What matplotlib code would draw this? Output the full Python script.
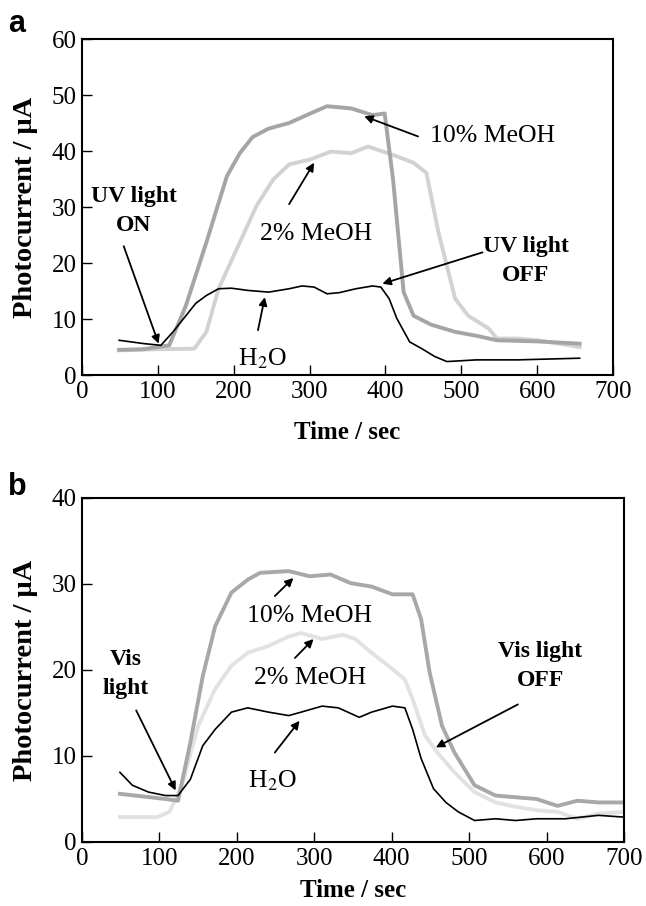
import matplotlib.pyplot as plt

plt.rcParams['font.family'] = ['Liberation Serif', 'DejaVu Serif']
plt.rcParams['mathtext.fontset'] = 'stix'

# ---- panel a (UV light) ----
a_h2o_t = [49, 82, 104, 120, 137, 150, 164, 180, 197, 219, 246, 273, 290, 306, 323, 339, 361, 383, 394,
           405, 415, 432, 448, 465, 481, 520, 574, 656]
a_h2o_i = [6.2, 5.6, 5.3, 7.7, 10.6, 12.8, 14.2, 15.4, 15.5, 15.1, 14.8, 15.4, 15.9, 15.7, 14.5, 14.7,
           15.4, 15.9, 15.7, 13.6, 10.1, 5.9, 4.7, 3.3, 2.4, 2.7, 2.7, 3.0]

a_m10_t = [49, 80, 100, 115, 137, 164, 191, 208, 225, 246, 273, 301, 323, 355, 383, 399, 410, 424, 437,
           460, 492, 520, 547, 600, 656]
a_m10_i = [4.5, 4.6, 5.0, 5.3, 12.4, 23.7, 35.5, 39.6, 42.5, 44.0, 45.0, 46.7, 48.0, 47.6, 46.4, 46.7,
           35.0, 14.8, 10.6, 9.0, 7.7, 7.0, 6.2, 6.0, 5.6]

a_m2_t = [49, 100, 148, 164, 180, 202, 230, 252, 273, 301, 328, 355, 377, 410, 437, 454, 470, 481,
          492, 509, 536, 547, 574, 601, 656]
a_m2_i = [4.4, 4.6, 4.7, 7.7, 15.4, 21.9, 30.2, 34.9, 37.6, 38.5, 39.9, 39.6, 40.8, 39.3, 37.9, 36.1,
          25.4, 19.5, 13.6, 10.6, 8.3, 6.5, 6.5, 6.2, 5.0]

# ---- panel b (Vis light) ----
b_h2o_t = [49, 65, 86, 108, 124, 140, 156, 172, 193, 214, 241, 267, 283, 310, 331, 358, 374, 401,
           417, 427, 438, 454, 470, 486, 507, 534, 560, 587, 624, 667, 699]
b_h2o_i = [8.1, 6.6, 5.8, 5.4, 5.4, 7.3, 11.2, 13.1, 15.1, 15.6, 15.1, 14.7, 15.1, 15.8, 15.6, 14.5,
           15.1, 15.8, 15.6, 13.1, 9.7, 6.2, 4.6, 3.5, 2.5, 2.7, 2.5, 2.7, 2.7, 3.1, 2.9]

b_m10_t = [49, 108, 124, 140, 156, 172, 193, 214, 230, 267, 294, 321, 347, 374, 401, 427, 438, 449,
           465, 481, 507, 534, 587, 614, 640, 667, 699]
b_m10_i = [5.6, 5.0, 4.8, 11.6, 19.3, 25.1, 29.0, 30.5, 31.3, 31.5, 30.9, 31.1, 30.1, 29.7, 28.8,
           28.8, 25.9, 19.7, 13.5, 10.4, 6.6, 5.4, 5.0, 4.2, 4.8, 4.6, 4.6]

b_m2_t = [49, 97, 113, 129, 150, 172, 193, 214, 241, 267, 283, 310, 337, 353, 374, 401, 417, 427,
          443, 459, 481, 507, 534, 560, 587, 614, 640, 667, 699]
b_m2_i = [2.9, 2.9, 3.5, 6.6, 13.5, 17.8, 20.5, 22.0, 22.8, 23.9, 24.3, 23.6, 24.1, 23.6, 22.0, 20.1,
          18.9, 16.6, 12.4, 10.4, 8.1, 5.8, 4.6, 4.1, 3.7, 3.5, 2.7, 3.3, 3.5]

W, H = 646, 906
fig = plt.figure(figsize=(W / 100, H / 100), dpi=100)

ax_a = fig.add_axes([82 / W, 1 - 375 / H, 531 / W, 336 / H])
ax_b = fig.add_axes([82 / W, 1 - 842 / H, 542 / W, 344 / H])


def style_axes(ax, ymax, ystep, xlab_y):
    ax.set_xlim(0, 700)
    ax.set_ylim(0, ymax)
    ax.set_xticks(range(0, 701, 100))
    ax.set_yticks(range(0, ymax + 1, ystep))
    ax.tick_params(direction='in', length=7, width=1, labelsize=18, pad=4)
    for sp in ax.spines.values():
        sp.set_linewidth(1.5)
    ax.set_xlabel('Time / sec', fontsize=18, fontweight='bold')
    ax.set_ylabel('Photocurrent / μA', fontsize=20.5, fontweight='bold')
    w = ax.get_position().width * W
    h = ax.get_position().height * H
    ax.yaxis.set_label_coords(-44 / w, 0.5)
    ax.xaxis.set_label_coords(0.5, -xlab_y / h)


def note(ax, text, xytext, xy=None, bold=False):
    if xy is None:
        if bold:
            ax.text(xytext[0], xytext[1], text, ha='center', va='center', fontsize=17,
                    fontweight='bold', linespacing=1.5)
        else:
            ax.text(xytext[0], xytext[1], text, ha='center', va='center', fontsize=18.5)
    else:
        ax.annotate('', xy=xy, xytext=xytext,
                    arrowprops=dict(arrowstyle='-|>', color='black', lw=1.3,
                                    mutation_scale=12, shrinkA=0, shrinkB=0))


# panel a
ax_a.plot(a_m2_t, a_m2_i, color='#d2d2d2', lw=2.8)
ax_a.plot(a_m10_t, a_m10_i, color='#a5a5a5', lw=2.8)
ax_a.plot(a_h2o_t, a_h2o_i, color='black', lw=1.2)
style_axes(ax_a, 60, 10, 46)

note(ax_a, 'UV light\nON', (68, 29.3), bold=True)
note(ax_a, '', (55, 23), (101, 5.6))
note(ax_a, '10% MeOH', (541, 42.6))
note(ax_a, '', (443, 42.6), (372, 46.2))
note(ax_a, '2% MeOH', (309, 25.1))
note(ax_a, '', (273, 30.5), (306, 37.9))
note(ax_a, 'H$_2$O', (238, 3.0))
note(ax_a, '', (232, 8.0), (241, 13.9))
note(ax_a, 'UV light\nOFF', (585, 20.3), bold=True)
note(ax_a, '', (528, 21.9), (396, 16.3))

# panel b
ax_b.plot(b_m2_t, b_m2_i, color='#e2e2e2', lw=2.8)
ax_b.plot(b_m10_t, b_m10_i, color='#a8a8a8', lw=2.8)
ax_b.plot(b_h2o_t, b_h2o_i, color='black', lw=1.2)
style_axes(ax_b, 40, 10, 37)

note(ax_b, 'Vis\nlight', (57, 19.5), bold=True)
note(ax_b, '', (70, 15.3), (121, 6.0))
note(ax_b, '10% MeOH', (294, 26.3))
note(ax_b, '', (249, 28.6), (273, 30.7))
note(ax_b, '2% MeOH', (294, 19.1))
note(ax_b, '', (275, 21.4), (299, 23.6))
note(ax_b, 'H$_2$O', (246, 7.1))
note(ax_b, '', (249, 10.4), (281, 14.1))
note(ax_b, 'Vis light\nOFF', (592, 20.5), bold=True)
note(ax_b, '', (563, 16.0), (457, 11.0))

fig.text(8 / W, 1 - 32 / H, 'a', fontsize=22, fontweight='bold', family='Liberation Sans', va='baseline')
fig.text(8 / W, 1 - 495 / H, 'b', fontsize=22, fontweight='bold', family='Liberation Sans', va='baseline')

fig.savefig('out.png', dpi=100)
